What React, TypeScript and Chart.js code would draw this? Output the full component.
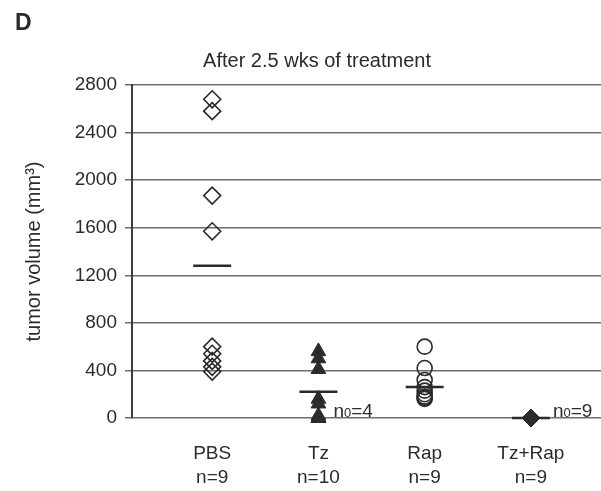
import React, { useEffect, useRef } from "react";
import { Chart, registerables } from "chart.js";

Chart.register(...registerables);

const panelLetter = "D";
const chartTitle = "After 2.5 wks of treatment";
const yAxisTitle = "tumor volume (mm³)";
const categories = ["PBS", "Tz", "Rap", "Tz+Rap"];
const groupSizes = ["n=9", "n=10", "n=9", "n=9"];
const yTickValues = [0, 400, 800, 1200, 1600, 2000, 2400, 2800];

const pbsValues = [2680, 2580, 1870, 1570, 600, 540, 480, 430, 390];
const tzValues = [560, 500, 410, 160, 120, 20, 0, 0, 0, 0];
const rapValues = [600, 420, 320, 260, 230, 200, 180, 170, 160];
const tzRapValues = [0, 0, 0, 0, 0, 0, 0, 0, 0];
const meanValues = [1280, 220, 260, 0];
const zeroTumorCounts = [null, 4, null, 9];

const FONT = '"Liberation Sans", Arial, sans-serif';
const INK = "#2b2b2b";

const toPoints = (idx: number, vals: number[]) => vals.map((v) => ({ x: idx, y: v }));

const textPlugin = {
  id: "panelText",
  afterDraw(chart: any) {
    const { ctx } = chart;
    const xs = chart.scales.x;
    const ys = chart.scales.y;
    ctx.save();
    ctx.fillStyle = INK;
    ctx.textBaseline = "alphabetic";
    ctx.textAlign = "left";
    ctx.font = `bold 23px ${FONT}`;
    ctx.fillText(panelLetter, 15, 30);
    ctx.textAlign = "center";
    ctx.font = `20px ${FONT}`;
    ctx.fillText(chartTitle, 317, 67);
    ctx.textAlign = "left";
    const offsets = [0, 15, 0, 22];
    zeroTumorCounts.forEach((c, i) => {
      if (c === null) return;
      let x = xs.getPixelForValue(i) + offsets[i];
      const y = ys.getPixelForValue(0) - 1;
      ctx.font = `19px ${FONT}`;
      ctx.fillText("n", x, y);
      x += ctx.measureText("n").width;
      ctx.font = `13px ${FONT}`;
      ctx.fillText("0", x, y);
      x += ctx.measureText("0").width;
      ctx.font = `19px ${FONT}`;
      ctx.fillText("=" + c, x, y);
    });
    ctx.restore();
  },
};

export default function App() {
  const ref = useRef<HTMLCanvasElement | null>(null);
  useEffect(() => {
    document.body.style.margin = "0";
    const canvas = ref.current;
    if (!canvas) return;
    const chart = new Chart(canvas, {
      type: "scatter",
      data: {
        datasets: [
          {
            label: categories[0],
            data: toPoints(0, pbsValues),
            pointStyle: "rectRot",
            pointRadius: 8.5,
            pointBorderWidth: 1.6,
            borderColor: INK,
            backgroundColor: "rgba(0,0,0,0)",
            clip: false,
          },
          {
            label: categories[1],
            data: toPoints(1, tzValues),
            pointStyle: "triangle",
            pointRadius: 8.5,
            pointBorderWidth: 1,
            borderColor: INK,
            backgroundColor: INK,
            clip: false,
          },
          {
            label: categories[2],
            data: toPoints(2, rapValues),
            pointStyle: "circle",
            pointRadius: 7.5,
            pointBorderWidth: 1.6,
            borderColor: INK,
            backgroundColor: "rgba(0,0,0,0)",
            clip: false,
          },
          {
            label: categories[3],
            data: toPoints(3, tzRapValues),
            pointStyle: "rectRot",
            pointRadius: 8.5,
            pointBorderWidth: 1,
            borderColor: INK,
            backgroundColor: INK,
            clip: false,
          },
          {
            label: "mean",
            data: meanValues.map((v, i) => ({ x: i, y: v })),
            pointStyle: "line",
            pointRadius: 19,
            pointBorderWidth: 2.5,
            borderColor: INK,
            backgroundColor: INK,
            clip: false,
          },
        ],
      },
      options: {
        responsive: false,
        animation: false,
        events: [],
        layout: { autoPadding: false, padding: { top: 85, left: 0, right: 0, bottom: 0 } },
        plugins: { legend: { display: false }, tooltip: { enabled: false }, title: { display: false } },
        scales: {
          x: {
            type: "linear",
            min: -0.755,
            max: 3.66,
            afterFit: (axis: any) => {
              axis.height = 73;
            },
            afterBuildTicks: (axis: any) => {
              axis.ticks = categories.map((_, i) => ({ value: i }));
            },
            grid: { display: false },
            border: { display: false },
            ticks: {
              autoSkip: false,
              maxRotation: 0,
              padding: 15,
              color: INK,
              font: { family: FONT, size: 19, lineHeight: 1.3 },
              callback: (v: any) => [categories[v], groupSizes[v]],
            },
          },
          y: {
            min: 0,
            max: 2800,
            afterFit: (axis: any) => {
              axis.width = 132;
            },
            afterBuildTicks: (axis: any) => {
              axis.ticks = yTickValues.map((v) => ({ value: v }));
            },
            grid: { color: "#6e6e6e", lineWidth: 1.5, tickLength: 7, drawTicks: true },
            border: { display: true, color: "#3c3c3c", width: 2 },
            title: {
              display: true,
              text: yAxisTitle,
              color: INK,
              font: { family: FONT, size: 20 },
              padding: { top: 22, bottom: 0 },
            },
            ticks: {
              padding: 8,
              color: INK,
              font: { family: FONT, size: 19 },
              callback: (v: any) => String(v),
            },
          },
        },
      },
      plugins: [textPlugin],
    });
    return () => chart.destroy();
  }, []);
  return <canvas ref={ref} width={601} height={491} style={{ display: "block" }} />;
}
